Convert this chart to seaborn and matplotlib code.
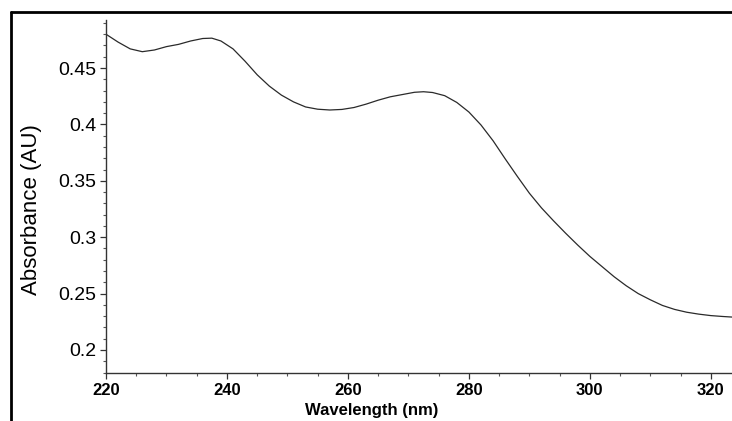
import matplotlib
matplotlib.use("Agg")
import matplotlib.pyplot as plt
from matplotlib.lines import Line2D
from matplotlib.ticker import MultipleLocator
import seaborn as sns
import pandas as pd

wavelength = [220, 222, 224, 226, 228, 230, 232, 234, 236, 237.5, 239, 241, 243, 245,
              247, 249, 251, 253, 255, 257, 259, 261, 263, 265, 267, 269, 271, 272.5,
              274, 276, 278, 280, 282, 284, 286, 288, 290, 292, 294, 296, 298, 300,
              302, 304, 306, 308, 310, 312, 314, 316, 318, 320, 322, 323.5]
absorbance = [0.480, 0.473, 0.467, 0.4645, 0.466, 0.469, 0.471, 0.474, 0.4762, 0.4765,
              0.474, 0.467, 0.456, 0.444, 0.434, 0.426, 0.420, 0.4155, 0.4135, 0.4128,
              0.4133, 0.415, 0.418, 0.4215, 0.4245, 0.4265, 0.4285, 0.429, 0.4283,
              0.4255, 0.4195, 0.411, 0.3995, 0.3855, 0.3695, 0.354, 0.339, 0.326, 0.3145,
              0.3035, 0.293, 0.283, 0.274, 0.265, 0.257, 0.250, 0.2445, 0.2395, 0.236,
              0.2335, 0.2318, 0.2305, 0.2297, 0.2292]
x_ticks = [220, 240, 260, 280, 300, 320]
y_ticks = [0.2, 0.25, 0.3, 0.35, 0.4, 0.45]
y_tick_labels = ["0.2", "0.25", "0.3", "0.35", "0.4", "0.45"]

df = pd.DataFrame({"Wavelength (nm)": wavelength, "Absorbance (AU)": absorbance})

sns.set_style("ticks")
plt.rcParams["font.family"] = ["Liberation Sans", "DejaVu Sans"]
plt.rcParams["text.color"] = "black"
plt.rcParams["xtick.labelcolor"] = "black"
plt.rcParams["ytick.labelcolor"] = "black"

W, H = 732, 421
fig = plt.figure(figsize=(W / 100, H / 100), dpi=100)
ax = fig.add_axes([106 / W, (H - 373) / H, (W - 106) / W, (373 - 20) / H])

sns.lineplot(data=df, x="Wavelength (nm)", y="Absorbance (AU)", ax=ax,
             color="#2a2a2a", linewidth=0.9)

ax.set_xlim(220, 323.5)
ax.set_ylim(0.1796, 0.4926)
ax.set_xticks(x_ticks)
ax.set_yticks(y_ticks)
ax.set_yticklabels(y_tick_labels)
ax.xaxis.set_minor_locator(MultipleLocator(5))
ax.yaxis.set_minor_locator(MultipleLocator(0.01))
ax.tick_params(axis="both", which="major", direction="out", length=4, width=0.9,
               color="#333333", labelcolor="black", pad=3)
ax.tick_params(axis="both", which="minor", direction="out", length=2.5, width=0.8,
               color="#555555")
ax.tick_params(axis="y", which="major", labelsize=14)
ax.tick_params(axis="x", which="major", labelsize=12)
for lab in ax.get_xticklabels():
    lab.set_fontweight("bold")
for s in ["top", "right"]:
    ax.spines[s].set_visible(False)
for s in ["left", "bottom"]:
    ax.spines[s].set_color("#333333")
    ax.spines[s].set_linewidth(1.0)
ax.set_xlabel("")
ax.set_ylabel("")

fig.text(32 / W, 1 - 210 / H, "Absorbance (AU)", rotation=90, ha="center",
         va="center", fontsize=16, color="black")
fig.text(372 / W, 1 - 410 / H, "Wavelength (nm)", ha="center", va="center",
         fontsize=12, fontweight="bold", color="black")

# outer frame lines (top and left)
fig.add_artist(Line2D([11 / W, 1], [1 - 12 / H, 1 - 12 / H], transform=fig.transFigure,
                      color="black", linewidth=2))
fig.add_artist(Line2D([11 / W, 11 / W], [0, 1 - 12 / H], transform=fig.transFigure,
                      color="black", linewidth=2))

fig.savefig("out.png", dpi=100)
